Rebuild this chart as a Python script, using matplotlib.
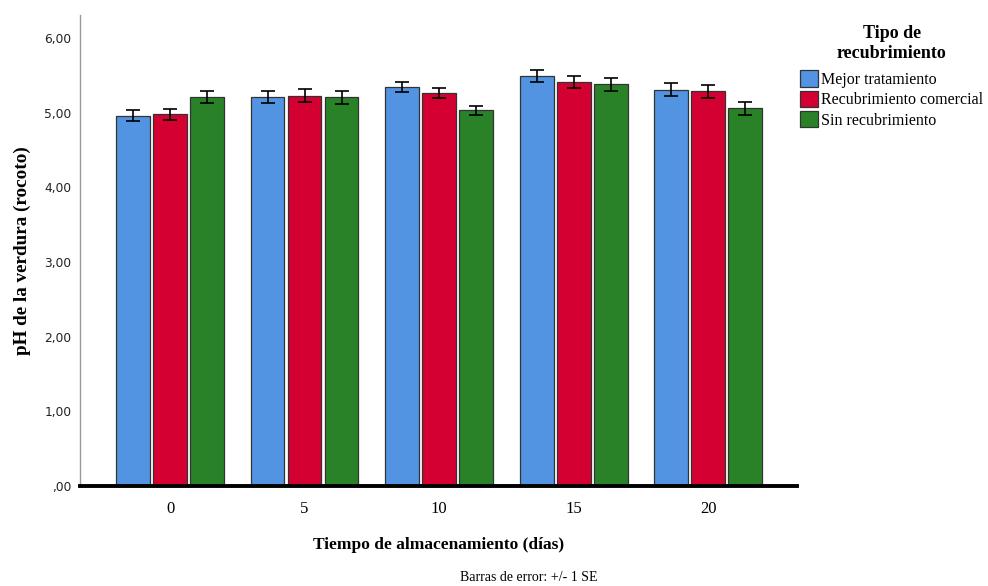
import matplotlib.pyplot as plt
import numpy as np
from matplotlib.patches import Patch

# pH del rocoto por tiempo de almacenamiento y tipo de recubrimiento
dias = ["0", "5", "10", "15", "20"]
series = ["Mejor tratamiento", "Recubrimiento comercial", "Sin recubrimiento"]
mejor = [4.96, 5.21, 5.34, 5.49, 5.31]
comercial = [4.98, 5.23, 5.26, 5.41, 5.29]
sin_rec = [5.21, 5.21, 5.03, 5.38, 5.06]
se_mejor = [0.075, 0.085, 0.067, 0.085, 0.09]
se_comercial = [0.075, 0.09, 0.065, 0.085, 0.087]
se_sin = [0.075, 0.087, 0.06, 0.085, 0.087]
yticks = [0, 1, 2, 3, 4, 5, 6]
yticklabels = [",00", "1,00", "2,00", "3,00", "4,00", "5,00", "6,00"]

colors = ["#5294e2", "#d50032", "#2a8228"]
serif = "Liberation Serif"

fig = plt.figure(figsize=(9.88, 5.86), dpi=100)
ax = fig.add_axes([0.081, 0.1706, 0.726, 0.804])

x = np.arange(len(dias))
width = 0.25
step = 0.275
values = [mejor, comercial, sin_rec]
errors = [se_mejor, se_comercial, se_sin]
for i, (vals, errs) in enumerate(zip(values, errors)):
    ax.bar(x + (i - 1) * step, vals, width, color=colors[i],
           edgecolor="#333333", linewidth=0.9, zorder=2)
    ax.errorbar(x + (i - 1) * step, vals, yerr=errs, fmt="none",
                ecolor="black", elinewidth=1.2, capsize=5, capthick=1.2, zorder=3)

ax.set_xlim(-0.669, 4.662)
ax.set_ylim(0, 6.31)
ax.set_yticks(yticks)
ax.set_yticklabels(yticklabels, fontsize=8.8, color="#222222")
ax.set_xticks(x)
ax.set_xticklabels(dias, fontsize=12, family=serif)
ax.tick_params(axis="both", length=0)
ax.tick_params(axis="x", pad=11)
ax.tick_params(axis="y", pad=6)

for s in ["top", "right"]:
    ax.spines[s].set_visible(False)
ax.spines["left"].set_color("#999999")
ax.spines["left"].set_linewidth(1)
ax.spines["bottom"].set_color("black")
ax.spines["bottom"].set_linewidth(2.8)
ax.spines["bottom"].set_zorder(4)

ax.set_ylabel("pH de la verdura (rocoto)", fontsize=13.8, fontweight="bold",
              family=serif)
ax.yaxis.set_label_coords(-0.069, 0.5)
ax.set_xlabel("Tiempo de almacenamiento (días)", fontsize=12.5, fontweight="bold",
              family=serif, labelpad=14)

handles = [Patch(facecolor=c, edgecolor="#333333", linewidth=0.9) for c in colors]
leg = fig.legend(handles, series, loc="upper left", bbox_to_anchor=(0.81, 0.957),
                 frameon=False, title="Tipo de\nrecubrimiento",
                 prop={"family": serif, "size": 11.5}, handlelength=1.1,
                 handleheight=1.2, handletextpad=0.2, labelspacing=0.18,
                 borderaxespad=0, borderpad=0)
leg.get_title().set_fontproperties({"family": serif, "size": 13, "weight": "bold"})
leg.get_title().set_multialignment("center")
leg._legend_box.sep = 6

fig.text(0.535, 0.015, "Barras de error: +/- 1 SE", ha="center", va="center",
         fontsize=10, family=serif)

fig.savefig("out.png", dpi=100)
